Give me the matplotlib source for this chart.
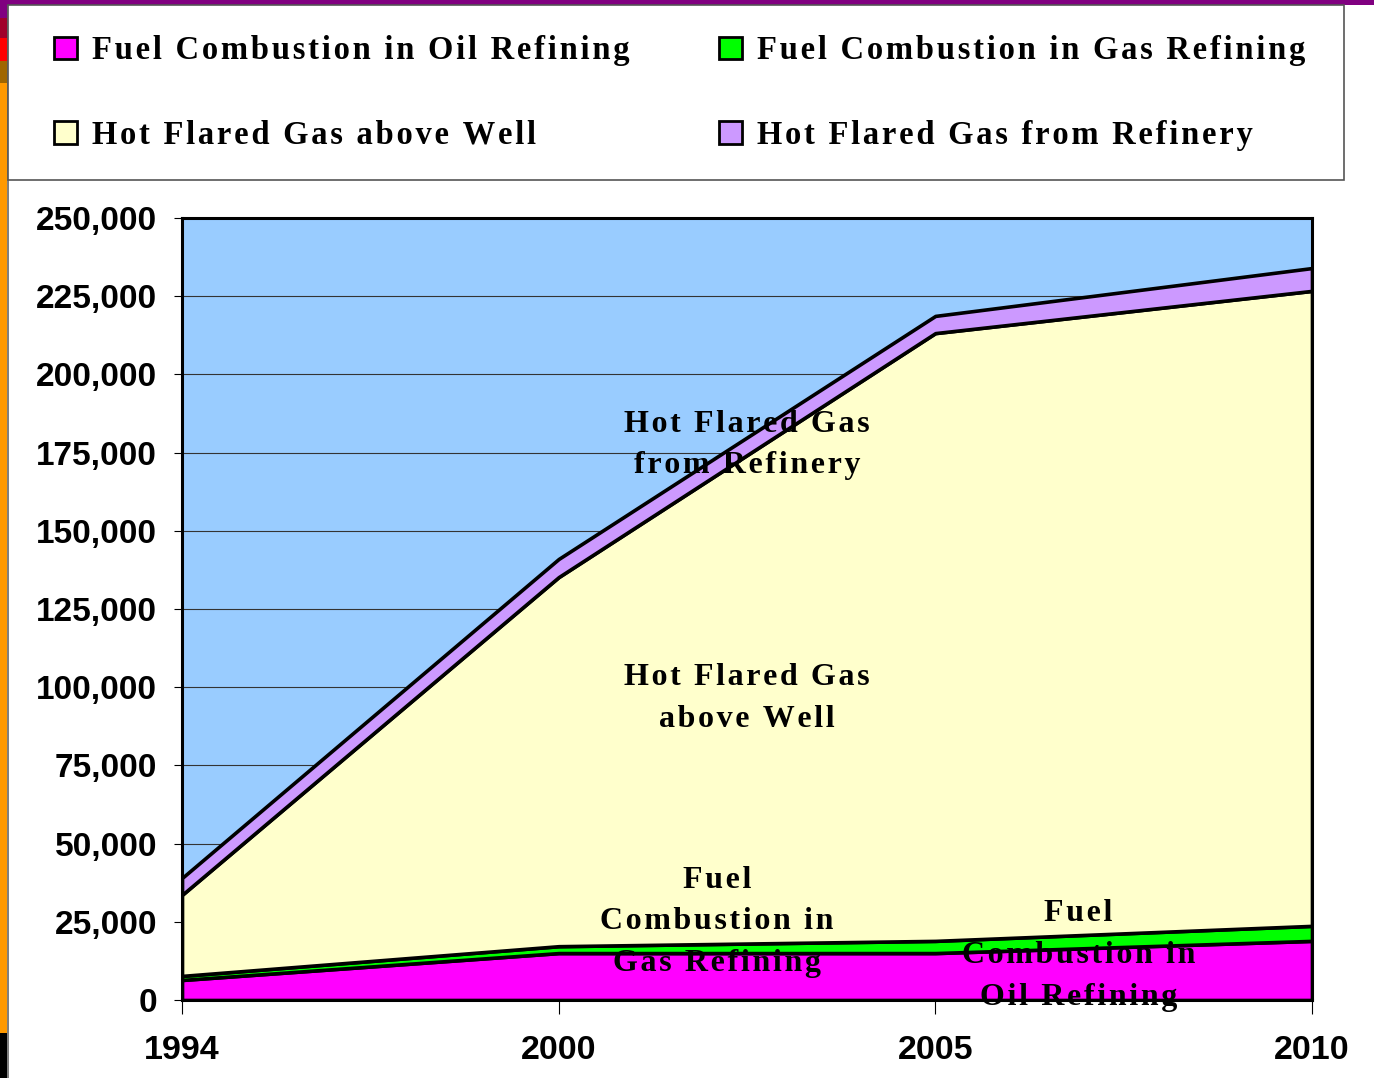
import numpy as np
import matplotlib.pyplot as plt
from matplotlib.patches import Rectangle, Patch

years = ['1994', '2000', '2005', '2010']
oil_refining = [6400, 15000, 15000, 18900]
gas_refining = [1300, 2200, 3900, 4800]
flared_well = [25900, 118000, 194300, 203000]
flared_refinery = [5400, 5800, 5500, 7300]

labels = ['Fuel Combustion in Oil Refining', 'Fuel Combustion in Gas Refining',
          'Hot Flared Gas above Well', 'Hot Flared Gas from Refinery']
colors = ['#FF00FF', '#00FF00', '#FFFFCC', '#CC99FF']

serif = 'Liberation Serif'
sans = 'Liberation Sans'


def spaced(s):
    # the original text is typeset with wide letter spacing
    return '\u200a'.join(s).replace('\u200a\n\u200a', '\n')


fig = plt.figure(figsize=(13.74, 10.78), dpi=100)

# decorative slide strip on the left and top
W, H = 1374, 1078
def px_rect(x0, y0, x1, y1, color, z=0):
    fig.add_artist(Rectangle((x0 / W, 1 - y1 / H), (x1 - x0) / W, (y1 - y0) / H,
                             transform=fig.transFigure, facecolor=color,
                             edgecolor='none', zorder=z))

px_rect(0, 0, W, 5, '#800080')
px_rect(0, 0, 7, 18, '#800080')
px_rect(0, 18, 7, 38, '#A0002A')
px_rect(0, 38, 7, 61, '#FF0000')
px_rect(0, 61, 7, 83, '#A06600')
px_rect(0, 83, 7, 1033, '#FF9900')
px_rect(0, 1033, 7, H, '#000000')
px_rect(7, 5, 9, H, '#808080')

# legend frame
fig.add_artist(Rectangle((8 / W, 1 - 180 / H), (1344 - 8) / W, (180 - 5) / H,
                         transform=fig.transFigure, facecolor='white',
                         edgecolor='#555555', linewidth=1.2, zorder=1))

ax = fig.add_axes([182 / W, 1 - 1000 / H, (1312 - 182) / W, (1000 - 218) / H])
ax.set_facecolor('#99CCFF')

x = np.arange(len(years))
ax.stackplot(x, oil_refining, gas_refining, flared_well, flared_refinery,
             colors=colors, edgecolor='black', linewidth=2.6, zorder=2)

ax.set_xlim(0, 3)
ax.set_ylim(0, 250000)
ax.set_yticks(np.arange(0, 250001, 25000))
ax.set_yticklabels([f'{v:,}' for v in range(0, 250001, 25000)])
ax.set_xticks(x)
ax.set_xticklabels(years)
ax.yaxis.grid(True, color='#333333', linewidth=0.8, zorder=1)
ax.set_axisbelow(True)
for lab in ax.get_yticklabels():
    lab.set_fontfamily(sans)
    lab.set_fontweight('bold')
    lab.set_fontsize(24)
for lab in ax.get_xticklabels():
    lab.set_fontfamily(sans)
    lab.set_fontweight('bold')
    lab.set_fontsize(24.5)
ax.tick_params(axis='y', length=6, width=0.8, pad=12)
ax.tick_params(axis='x', length=10, width=0.8, pad=15)
for s in ax.spines.values():
    s.set_linewidth(2.2)
    s.set_zorder(5)

txt = dict(fontfamily=serif, fontweight='bold', fontsize=23, ha='center',
           va='center', linespacing=1.58, zorder=6)
ax.text(1.5, 177400, spaced('Hot Flared Gas\nfrom Refinery'), **txt)
ax.text(1.5, 96300, spaced('Hot Flared Gas\nabove Well'), **txt)
ax.text(1.42, 25000, spaced('Fuel\nCombustion in\nGas Refining'), **txt)
ax.text(2.38, 14300, spaced('Fuel\nCombustion in\nOil Refining'), **txt)

handles = [Patch(facecolor=c, edgecolor='black', linewidth=2) for c in colors]
order = [0, 2, 1, 3]
fig.legend([handles[i] for i in order], [spaced(labels[i]) for i in order],
           ncol=2, loc='upper left', bbox_to_anchor=(25 / W, 1 - 6 / H),
           frameon=False, prop={'family': serif, 'weight': 'bold', 'size': 23.5},
           handlelength=0.7, handleheight=0.7, handletextpad=0.45,
           columnspacing=2.75, labelspacing=1.63)

fig.savefig('out.png', dpi=100)
